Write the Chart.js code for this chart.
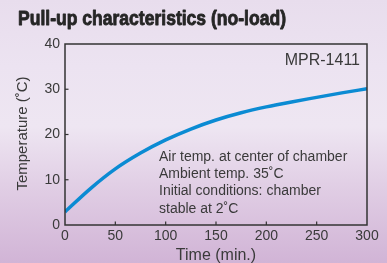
<!DOCTYPE html>
<html><head><meta charset="utf-8">
<script src="https://cdn.jsdelivr.net/npm/chart.js@4/dist/chart.umd.min.js"></script>
<style>
html,body{margin:0;padding:0;}
body{width:387px;height:263px;overflow:hidden;background:linear-gradient(to bottom,#e8dded 0%,#ece3f1 25%,#eee6f2 48%,#e0cde4 72%,#d1b4d6 100%);}
#wrap{position:absolute;left:0;top:0;width:387px;height:263px;}
</style></head><body>
<div id="wrap"><canvas id="c" width="387" height="263"></canvas></div>
<script>
const timeMin = [0, 25, 50, 75, 100, 125, 150, 175, 200, 225, 250, 275, 300];
const temperatureC = [2.9, 8.0, 12.4, 15.9, 18.8, 21.2, 23.2, 24.8, 26.1, 27.2, 28.2, 29.2, 30.1];
const xTicks = [0, 50, 100, 150, 200, 250, 300];
const yTicks = [0, 10, 20, 30, 40];
const titleText = 'Pull-up characteristics (no-load)';
const modelText = 'MPR-1411';
const noteLines = ['Air temp. at center of chamber', 'Ambient temp. 35˚C', 'Initial conditions: chamber', 'stable at 2˚C'];
const xTitle = 'Time (min.)';
const yTitle = 'Temperature (˚C)';

const FONT = '"Liberation Sans", Arial, sans-serif';
const TXT = '#3a3a3a';

const deco = {
  id: 'deco',
  afterDraw(chart) {
    const ctx = chart.ctx, a = chart.chartArea;
    const xs = chart.scales.x, ys = chart.scales.y;
    ctx.save();
    // frame
    ctx.strokeStyle = '#333'; ctx.lineWidth = 1.5;
    ctx.strokeRect(a.left, a.top, a.right - a.left, a.bottom - a.top);
    // inward ticks
    ctx.lineWidth = 1.2;
    xTicks.slice(1, -1).forEach(v => {
      const px = xs.getPixelForValue(v);
      ctx.beginPath(); ctx.moveTo(px, a.bottom); ctx.lineTo(px, a.bottom - 3.5); ctx.stroke();
    });
    yTicks.slice(1, -1).forEach(v => {
      const py = ys.getPixelForValue(v);
      ctx.beginPath(); ctx.moveTo(a.left, py); ctx.lineTo(a.left + 3.5, py); ctx.stroke();
    });
    // title (condensed heavy)
    ctx.fillStyle = '#262626'; ctx.strokeStyle = '#262626';
    ctx.font = 'bold 21px ' + FONT;
    ctx.textBaseline = 'alphabetic'; ctx.textAlign = 'left';
    const w = ctx.measureText(titleText).width;
    ctx.save(); ctx.translate(18, 25); ctx.scale(268 / w, 1);
    ctx.lineWidth = 0.9; ctx.lineJoin = 'round';
    ctx.fillText(titleText, 0, 0); ctx.strokeText(titleText, 0, 0); ctx.restore();
    // model
    ctx.fillStyle = TXT;
    ctx.font = '16px ' + FONT; ctx.textAlign = 'right';
    ctx.fillText(modelText, 360, 65);
    // notes
    ctx.font = '14px ' + FONT; ctx.textAlign = 'left';
    noteLines.forEach((t, i) => ctx.fillText(t, 159, 160.7 + i * 17.3));
    // axis titles
    ctx.font = '16px ' + FONT; ctx.textAlign = 'center';
    ctx.fillText(xTitle, (a.left + a.right) / 2, 260);
    ctx.save(); ctx.translate(27, (a.top + a.bottom) / 2 - 1); ctx.rotate(-Math.PI / 2);
    ctx.font = '15px ' + FONT; ctx.fillText(yTitle, 0, 0); ctx.restore();
    ctx.restore();
  }
};

new Chart(document.getElementById('c'), {
  type: 'line',
  data: {
    datasets: [{
      data: timeMin.map((t, i) => ({x: t, y: temperatureC[i]})),
      borderColor: '#0b8bd3', borderWidth: 3.5, pointRadius: 0,
      cubicInterpolationMode: 'monotone', fill: false
    }]
  },
  options: {
    responsive: false, animation: false, devicePixelRatio: 1,
    layout: {padding: {top: 44, right: 20, left: 0, bottom: 0}},
    plugins: {legend: {display: false}, tooltip: {enabled: false}},
    scales: {
      x: {
        type: 'linear', min: 0, max: 300,
        afterBuildTicks: s => { s.ticks = xTicks.map(v => ({value: v})); },
        afterFit: s => { s.height = 38; },
        grid: {display: false, drawTicks: false}, border: {display: false},
        ticks: {padding: 3, color: TXT, font: {family: FONT, size: 14}}
      },
      y: {
        type: 'linear', min: 0, max: 40,
        afterBuildTicks: s => { s.ticks = yTicks.map(v => ({value: v})); },
        afterFit: s => { s.width = 65; },
        grid: {display: false, drawTicks: false}, border: {display: false},
        ticks: {padding: 5, color: TXT, font: {family: FONT, size: 14}}
      }
    }
  },
  plugins: [deco]
});
</script></body></html>
